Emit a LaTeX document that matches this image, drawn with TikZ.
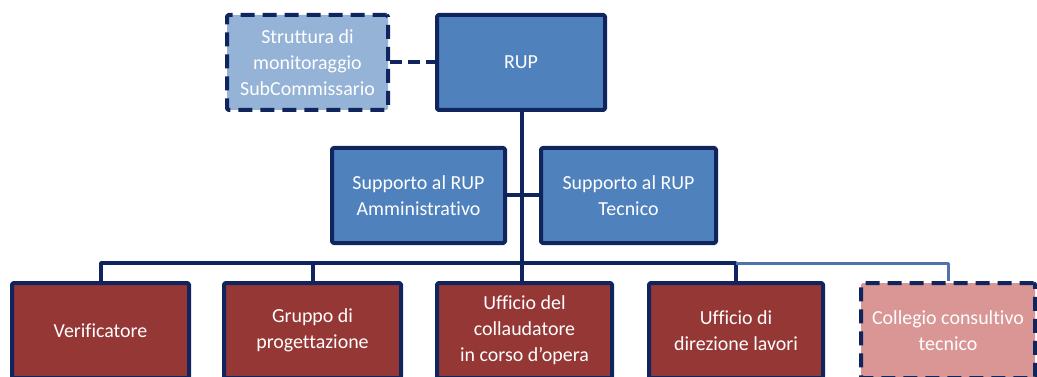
\documentclass[tikz,border=0pt]{standalone}
\usepackage{fontspec}
\setmainfont{Carlito}[Ligatures=NoCommon]
\usepackage{tikz}
\usetikzlibrary{positioning}
\definecolor{navy}{RGB}{16,36,94}
\definecolor{rupblue}{RGB}{79,129,189}
\definecolor{paleblue}{RGB}{149,179,215}
\definecolor{brick}{RGB}{149,55,53}
\definecolor{rose}{RGB}{217,150,148}
\definecolor{linkblue}{RGB}{79,115,170}

\begin{document}
\begin{tikzpicture}[x=1bp,y=1bp,line join=bevel,
  box/.style={draw=navy,line width=4bp,rounded corners=1.5bp,text=white,align=center,
    minimum height=95bp,inner sep=1bp,font=\fontsize{20}{26}\selectfont},
  dashbox/.style={box,dash pattern=on 14bp off 8bp},
  link/.style={draw=navy,line width=4bp},
]
%%
\useasboundingbox (0,0) rectangle (1037,376);
\node (strut) at (307.5bp,313.5bp) [dashbox,fill=paleblue,minimum width=161bp] {Struttura di\\monitoraggio\\SubCommissario};
  \node (rup) at (521.0bp,313.5bp) [box,fill=rupblue,minimum width=168bp] {RUP};
  \node (adm) at (418.5bp,180.5bp) [box,fill=rupblue,minimum width=173bp] {Supporto al RUP\\Amministrativo};
  \node (tec) at (628.5bp,180.5bp) [box,fill=rupblue,minimum width=175bp] {Supporto al RUP\\Tecnico};
  \node (ver) at (100.5bp,45.5bp) [box,fill=brick,minimum width=177bp] {Verificatore};
  \node (grp) at (312.5bp,45.5bp) [box,fill=brick,minimum width=177bp] {Gruppo di\\progettazione};
  \node (col) at (524.5bp,45.5bp) [box,fill=brick,minimum width=175bp] {Ufficio del\\collaudatore\\in corso d’opera};
  \node (dir) at (736.0bp,45.5bp) [box,fill=brick,minimum width=174bp] {Ufficio di\\direzione lavori};
  \node (cct) at (948.0bp,45.5bp) [dashbox,fill=rose,minimum width=174bp] {Collegio consultivo\\tecnico};
  \coordinate (bus) at (522.0bp,113.0bp);
  \draw [link,dash pattern=on 12bp off 6bp] (strut.east) -- (rup.west);
  \draw [link] (rup.south -| bus) -- (bus);
  \draw [link] (adm.east) -- (tec.west);
  \draw [link] (ver.north) |- (bus) -| (dir.north);
  \draw [link] (grp.north) -- (grp.north |- bus);
  \draw [link] (bus) -- (col.north -| bus);
  \draw [draw=linkblue,line width=3bp] (dir.north |- bus) -| (cct.north);
%
\end{tikzpicture}
\end{document}
